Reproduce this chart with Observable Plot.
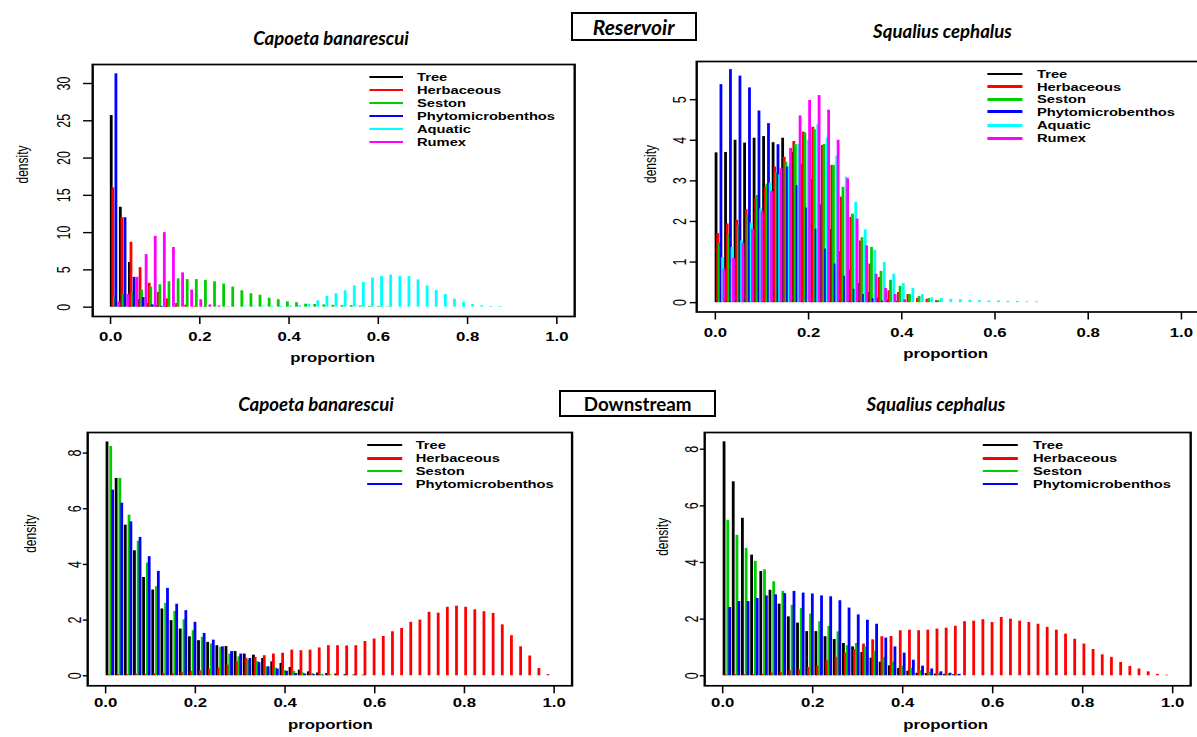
<!DOCTYPE html>
<html><head><meta charset="utf-8">
<script src="https://cdn.jsdelivr.net/npm/d3@7"></script>
<script src="https://cdn.jsdelivr.net/npm/@observablehq/plot@0.6"></script>
<style>
html,body{margin:0;padding:0;background:#fff;overflow:hidden;}
#fig{position:relative;width:1197px;height:737px;overflow:hidden;background:#fff;}
.panel{position:absolute;transform-origin:0 0;}
.panel svg{position:absolute;left:0;top:0;overflow:visible;max-width:none !important;}
.title{position:absolute;font-family:Lato,'Open Sans',sans-serif;font-weight:bold;font-style:italic;font-size:18.6px;transform:translate(-50%,-50%);white-space:nowrap;color:#000;}
.box{position:absolute;box-sizing:border-box;border:2px solid #000;display:flex;align-items:center;justify-content:center;font-family:Lato,'Open Sans',sans-serif;font-weight:bold;font-size:18.5px;color:#000;background:#fff;}
.leg{position:absolute;font-family:'Liberation Sans',Arial,sans-serif;font-weight:bold;font-size:10.5px;line-height:13px;white-space:nowrap;color:#000;}
.leg .ln{position:absolute;height:2.5px;}
.leg .tx{position:absolute;transform:translateY(-50%);}
</style></head>
<body><div id="fig"></div>
<script>
// ---------- data ----------
const S = 1.4; // horizontal stretch of the R panels
const binStart = [0, 0.0204, 0.0408, 0.0612, 0.0816, 0.1020, 0.1224, 0.1429, 0.1633, 0.1837,
  0.2041, 0.2245, 0.2449, 0.2653, 0.2857, 0.3061, 0.3265, 0.3469, 0.3673, 0.3878,
  0.4082, 0.4286, 0.4490, 0.4694, 0.4898, 0.5102, 0.5306, 0.5510, 0.5714, 0.5918,
  0.6122, 0.6327, 0.6531, 0.6735, 0.6939, 0.7143, 0.7347, 0.7551, 0.7755, 0.7959,
  0.8163, 0.8367, 0.8571, 0.8776, 0.8980, 0.9184, 0.9388, 0.9592, 0.9796];
const xTicks = [0, 0.2, 0.4, 0.6, 0.8, 1.0];
const seriesNames6 = ["Tree", "Herbaceous", "Seston", "Phytomicrobenthos", "Aquatic", "Rumex"];
const seriesNames4 = ["Tree", "Herbaceous", "Seston", "Phytomicrobenthos"];
const seriesColors = ["#000000", "#ff0000", "#00cd00", "#0000ff", "#00ffff", "#ff00ff"];
const shift6 = [0.0015, 0.005, 0.0085, 0.012, 0.0155, 0.0185];
const shift4 = [0.003, 0.0068, 0.0113, 0.0155];

// Reservoir - Capoeta banarescui
const resCapTree = [25.7, 13.4, 6.0, 1.0, 0.5, 0.2, 0.1, 0.05];
const resCapHerb = [16.0, 12.0, 8.7, 5.3, 3.2, 2.0, 1.1, 0.5, 0.25, 0.1, 0.05];
const resCapSeston = [1.3, 1.7, 2.0, 2.3, 2.7, 3.0, 3.4, 3.8, 3.7, 3.7, 3.6, 3.4, 3.1, 2.7, 2.2, 1.8, 1.6, 1.2, 1.0, 0.7, 0.6, 0.4, 0.35, 0.3, 0.25, 0.2, 0.2, 0.15, 0.1, 0.1, 0.05];
const resCapPhyto = [31.3, 12.0, 4.0, 1.3, 0.3, 0.1];
const resCapAquatic = [0, 0, 0, 0, 0, 0, 0, 0, 0, 0, 0, 0, 0, 0, 0.05, 0.05, 0.08, 0.1, 0.1, 0.15, 0.2, 0.4, 0.85, 1.45, 1.8, 2.2, 2.85, 3.3, 3.9, 4.1, 4.3, 4.15, 4.1, 3.66, 2.85, 2.23, 1.7, 1.07, 0.67, 0.36, 0.18, 0.09, 0.09];
const resCapRumex = [0.7, 1.7, 4.0, 7.05, 9.5, 10.0, 8.0, 4.6, 2.3, 1.0, 0.3, 0.15, 0.05];
const resCapYTicks = [0, 5, 10, 15, 20, 25, 30];

// Reservoir - Squalius cephalus
const resSquTree = [3.69, 3.7, 4.0, 3.93, 4.05, 4.09, 3.94, 4.05, 3.7, 3.4, 3.03, 2.41, 1.8, 1.25, 0.8, 0.47, 0.25, 0.12, 0.06, 0.03];
const resSquHerb = [1.7, 1.94, 2.03, 2.29, 2.57, 2.84, 3.34, 3.58, 3.97, 4.2, 4.32, 3.87, 3.38, 2.6, 2.1, 1.52, 0.95, 0.62, 0.29, 0.25, 0.2, 0.1, 0.08, 0.05];
const resSquSeston = [1.46, 1.69, 1.9, 2.17, 2.64, 2.92, 3.2, 3.46, 3.89, 4.18, 4.26, 3.9, 3.38, 2.84, 2.18, 1.6, 1.36, 0.77, 0.55, 0.4, 0.2, 0.15, 0.1, 0.05];
const resSquPhyto = [5.37, 5.74, 5.58, 5.29, 4.72, 4.41, 3.89, 3.34, 2.88, 2.33, 1.81, 1.32, 0.95, 0.65, 0.33, 0.2, 0.1, 0.04];
const resSquAquatic = [1.11, 1.36, 1.52, 1.96, 2.31, 2.94, 3.15, 3.35, 3.9, 4.0, 4.38, 4.06, 3.61, 3.09, 2.47, 1.79, 1.29, 0.99, 0.7, 0.47, 0.35, 0.2, 0.12, 0.1, 0.08, 0.07, 0.06, 0.05, 0.04, 0.04, 0.03, 0.03, 0.02, 0.02];
const resSquRumex = [0.82, 1.09, 1.46, 1.81, 2.25, 2.74, 3.3, 3.8, 4.6, 4.98, 5.1, 4.74, 4.0, 3.05, 2.06, 1.4, 0.7, 0.35, 0.2, 0.07];
const resSquYTicks = [0, 1, 2, 3, 4, 5];

// Downstream - Capoeta banarescui
const dsCapTree = [8.4, 7.09, 5.41, 4.49, 3.53, 3.08, 2.4, 1.98, 1.68, 1.4, 1.26, 1.2, 1.08, 1.05, 0.87, 0.78, 0.74, 0.62, 0.5, 0.44, 0.3, 0.2, 0.14, 0.1, 0.08, 0.06, 0.04, 0.03, 0.02];
const dsCapHerb = [0.04, 0.04, 0.04, 0.06, 0.06, 0.08, 0.08, 0.08, 0.12, 0.16, 0.18, 0.24, 0.28, 0.38, 0.5, 0.63, 0.66, 0.72, 0.78, 0.81, 0.92, 0.9, 0.92, 1.0, 1.08, 1.08, 1.07, 1.08, 1.23, 1.32, 1.41, 1.58, 1.7, 1.92, 2.0, 2.28, 2.25, 2.46, 2.5, 2.46, 2.37, 2.3, 2.24, 1.83, 1.44, 1.04, 0.71, 0.26, 0.04];
const dsCapSeston = [8.24, 7.09, 5.77, 4.83, 4.05, 3.2, 2.6, 2.31, 2.01, 1.62, 1.38, 1.14, 1.02, 0.78, 0.68, 0.56, 0.51, 0.32, 0.28, 0.18, 0.16, 0.1, 0.08, 0.05, 0.03];
const dsCapPhyto = [6.67, 6.2, 5.53, 4.97, 4.28, 3.75, 3.14, 2.57, 2.34, 1.92, 1.52, 1.28, 1.04, 0.87, 0.78, 0.62, 0.47, 0.32, 0.24, 0.16, 0.08, 0.06, 0.04, 0.02];
const dsCapYTicks = [0, 2, 4, 6, 8];

// Downstream - Squalius cephalus
const dsSquTree = [8.26, 6.85, 5.56, 4.26, 3.68, 3.02, 2.53, 2.08, 1.86, 1.56, 1.56, 1.38, 1.28, 1.14, 1.02, 0.82, 0.62, 0.48, 0.35, 0.26, 0.16, 0.09, 0.08, 0.06, 0.05, 0.04];
const dsSquHerb = [0.04, 0.04, 0.04, 0.05, 0.06, 0.1, 0.12, 0.18, 0.21, 0.29, 0.34, 0.53, 0.65, 0.8, 0.93, 1.12, 1.27, 1.38, 1.39, 1.59, 1.61, 1.59, 1.61, 1.65, 1.68, 1.75, 1.91, 1.93, 1.98, 1.88, 2.06, 2.0, 1.93, 1.88, 1.82, 1.71, 1.61, 1.47, 1.29, 1.12, 0.93, 0.74, 0.65, 0.47, 0.33, 0.24, 0.14, 0.05, 0.02];
const dsSquSeston = [5.49, 4.96, 4.5, 4.04, 3.74, 3.32, 2.98, 2.49, 2.38, 2.18, 1.91, 1.74, 1.55, 1.06, 1.14, 1.02, 0.86, 0.65, 0.48, 0.34, 0.27, 0.18, 0.12, 0.08, 0.06, 0.04];
const dsSquPhyto = [2.41, 2.62, 2.62, 2.73, 2.82, 2.86, 2.9, 2.98, 2.92, 2.89, 2.82, 2.79, 2.65, 2.39, 2.15, 1.96, 1.82, 1.33, 1.02, 0.8, 0.55, 0.34, 0.24, 0.14, 0.09, 0.05];
const dsSquYTicks = [0, 2, 4, 6, 8];

// ---------- layout (original pixel space) ----------
const fig = document.getElementById("fig");

function makePanel(cfg) {
  const [fl, ft, fr, fb] = cfg.frame;
  const L = fl - 95, T = ft - 30, R = fr + 8, B = fb + 55;
  const W = (R - L) / S, H = B - T;
  const wrap = document.createElement("div");
  wrap.className = "panel";
  wrap.style.left = L + "px";
  wrap.style.top = T + "px";
  wrap.style.width = W + "px";
  wrap.style.height = H + "px";
  wrap.style.transform = `scaleX(${S})`;
  const rows = [];
  cfg.series.forEach((vals, i) => {
    vals.forEach((v, k) => { if (v > 0) rows.push({x: binStart[k] + cfg.shift[i], v, s: i}); });
  });
  const midY = (ft + fb) / 2;
  const marks = [
    Plot.frame({stroke: "#000", strokeWidth: 1.7}),
    ...cfg.series.map((_, i) => Plot.ruleX(rows.filter(d => d.s === i), {x: "x", y1: 0, y2: "v", stroke: seriesColors[i], strokeWidth: 2})),
    Plot.axisX({ticks: xTicks, tickFormat: d3.format(".1f"), tickSize: 8, tickPadding: cfg.xPad, fontSize: 12, fontWeight: "bold", strokeWidth: 1.1, label: null}),
    Plot.axisY({ticks: cfg.yTicks, tickFormat: d => String(d), tickSize: cfg.yTickSize, tickPadding: cfg.yPad, tickRotate: -90, fontSize: 12.5, strokeWidth: 1.4, label: null}),
    Plot.text(["density"], {text: d => d, frameAnchor: "left", rotate: -90, dx: -(fl - cfg.densX) / S, dy: cfg.densY - midY, fontSize: 12}),
    Plot.text(["proportion"], {text: d => d, frameAnchor: "bottom", dx: (cfg.propX - (fl + fr) / 2) / S, dy: cfg.propY - fb, fontSize: 12, fontWeight: "bold"})
  ];
  const svg = Plot.plot({
    width: W, height: H,
    marginLeft: (fl - L) / S, marginRight: (R - fr) / S, marginTop: ft - T, marginBottom: B - fb,
    x: {domain: [-0.04, 1.04]},
    y: {domain: cfg.yDomain},
    style: {fontFamily: "'Liberation Sans', Arial, sans-serif", background: "transparent", color: "#000", overflow: "visible", maxWidth: "none"},
    marks
  });
  wrap.appendChild(svg);
  // legend
  const leg = document.createElement("div");
  leg.className = "leg";
  leg.style.left = "0px"; leg.style.top = "0px";
  cfg.names.forEach((n, i) => {
    const y = cfg.legRows[i];
    const ln = document.createElement("div");
    ln.className = "ln";
    ln.style.left = (cfg.legLine[0] - L) / S + "px";
    ln.style.width = (cfg.legLine[1] - cfg.legLine[0]) / S + "px";
    ln.style.top = (y - T - 1.25) + "px";
    ln.style.background = seriesColors[i];
    const tx = document.createElement("div");
    tx.className = "tx";
    tx.style.left = (cfg.legText - L) / S + "px";
    tx.style.top = (y - T) + "px";
    tx.textContent = n;
    leg.appendChild(ln); leg.appendChild(tx);
  });
  wrap.appendChild(leg);
  fig.appendChild(wrap);
}

makePanel({
  frame: [92, 64, 574, 316], yDomain: [-1.25, 32.55], yTicks: resCapYTicks,
  series: [resCapTree, resCapHerb, resCapSeston, resCapPhyto, resCapAquatic, resCapRumex], shift: shift6, names: seriesNames6,
  yTickSize: 6.4, yPad: 10, xPad: 8, densX: 22, densY: 183, propX: 332, propY: 362,
  legLine: [369, 403], legText: 417, legRows: [77, 90, 103, 116, 129, 142]
});
makePanel({
  frame: [696, 60.5, 1199.4, 311], yDomain: [-0.23, 5.94], yTicks: resSquYTicks,
  series: [resSquTree, resSquHerb, resSquSeston, resSquPhyto, resSquAquatic, resSquRumex], shift: shift6, names: seriesNames6,
  yTickSize: 4.5, yPad: 3, xPad: 8, densX: 650, densY: 182, propX: 945, propY: 357,
  legLine: [987, 1022], legText: 1037, legRows: [74, 86.7, 99.3, 111.7, 125.3, 138.3]
});
makePanel({
  frame: [87.3, 431.7, 571.7, 685], yDomain: [-0.36, 8.74], yTicks: dsCapYTicks,
  series: [dsCapTree, dsCapHerb, dsCapSeston, dsCapPhyto], shift: shift4, names: seriesNames4,
  yTickSize: 3, yPad: 1.5, xPad: 5, densX: 30, densY: 552, propX: 330, propY: 728,
  legLine: [367, 402], legText: 416, legRows: [445, 458.3, 471, 484]
});
makePanel({
  frame: [704, 431.7, 1190, 685], yDomain: [-0.353, 8.59], yTicks: dsSquYTicks,
  series: [dsSquTree, dsSquHerb, dsSquSeston, dsSquPhyto], shift: shift4, names: seriesNames4,
  yTickSize: 3, yPad: 1.5, xPad: 5, densX: 662, densY: 555, propX: 945, propY: 728,
  legLine: [983, 1018], legText: 1033, legRows: [445, 458.3, 471, 484]
});

// titles and boxes (not stretched)
function title(txt, x, y) {
  const d = document.createElement("div");
  d.className = "title"; d.textContent = txt;
  d.style.left = x + "px"; d.style.top = y + "px";
  fig.appendChild(d);
}
title("Capoeta banarescui", 331, 37.5);
title("Squalius cephalus", 942.5, 31);
title("Capoeta banarescui", 316, 404);
title("Squalius cephalus", 936, 404);
function box(txt, x, y, w, h, italic, fs) {
  const d = document.createElement("div");
  d.className = "box"; d.textContent = txt;
  d.style.left = x + "px"; d.style.top = y + "px";
  d.style.width = w + "px"; d.style.height = h + "px";
  d.style.fontSize = fs + "px";
  if (italic) d.style.fontStyle = "italic";
  fig.appendChild(d);
}
box("Reservoir", 570.7, 11.7, 126, 29.3, true, 21);
box("Downstream", 559.3, 390, 156.7, 27.3, false, 18.8);
</script>
</body></html>
